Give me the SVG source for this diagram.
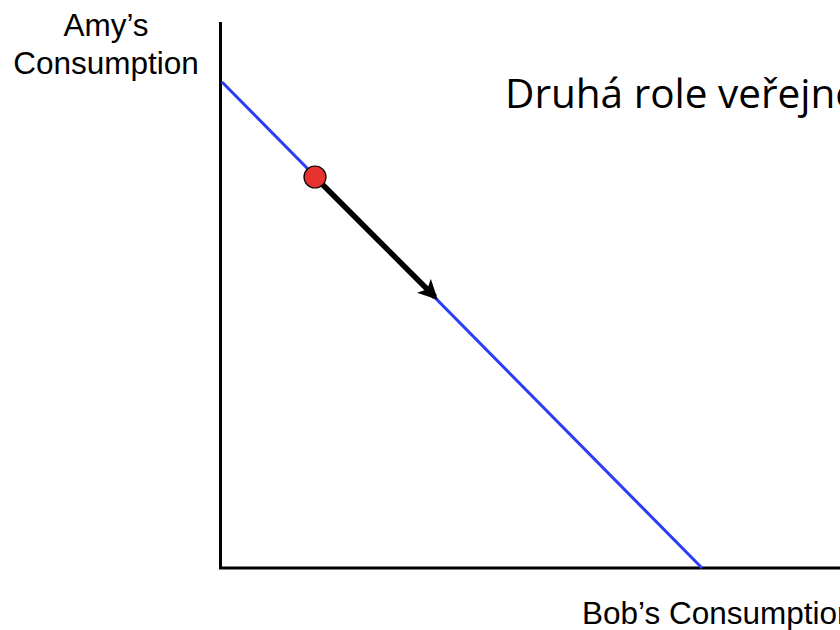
<svg xmlns="http://www.w3.org/2000/svg" width="840" height="630" viewBox="0 0 840 630">
<style>
.lbl{font-family:"Liberation Sans",Arial,sans-serif;font-size:31.5px;fill:#000}
.title{font-family:"Open Sans","Noto Sans",sans-serif;font-size:40.5px;fill:#000}
</style>
<defs>
<marker id="ah" viewBox="0 0 10 10" refX="8" refY="5" markerWidth="3.6" markerHeight="3.6" orient="auto" markerUnits="strokeWidth">
<path d="M0,0 L10,5 L0,10 L2.5,5 Z" fill="#000"/>
</marker>
</defs>
<rect width="840" height="630" fill="#fff"/>
<g id="axes">
<path d="M220.5,22 L220.5,568 L840,568" fill="none" stroke="#000" stroke-width="3"/>
</g>
<g id="budget-line">
<line x1="222" y1="82" x2="702" y2="568" stroke="#2a3cf5" stroke-width="3"/>
</g>
<g id="connectors">
<line x1="316" y1="178" x2="435" y2="297" stroke="#000" stroke-width="5.5" marker-end="url(#ah)"/>
</g>
<g id="point">
<circle cx="315" cy="177" r="11" fill="#e8322e" stroke="#000" stroke-width="1.2"/>
</g>
<g id="labels">
<text class="lbl" x="106" y="36" text-anchor="middle">Amy’s</text>
<text class="lbl" x="106" y="74" text-anchor="middle">Consumption</text>
<text class="lbl" x="582" y="624">Bob’s Consumption</text>
<text class="title" x="505" y="108">Druhá role veřejného sektoru</text>
</g>
</svg>
